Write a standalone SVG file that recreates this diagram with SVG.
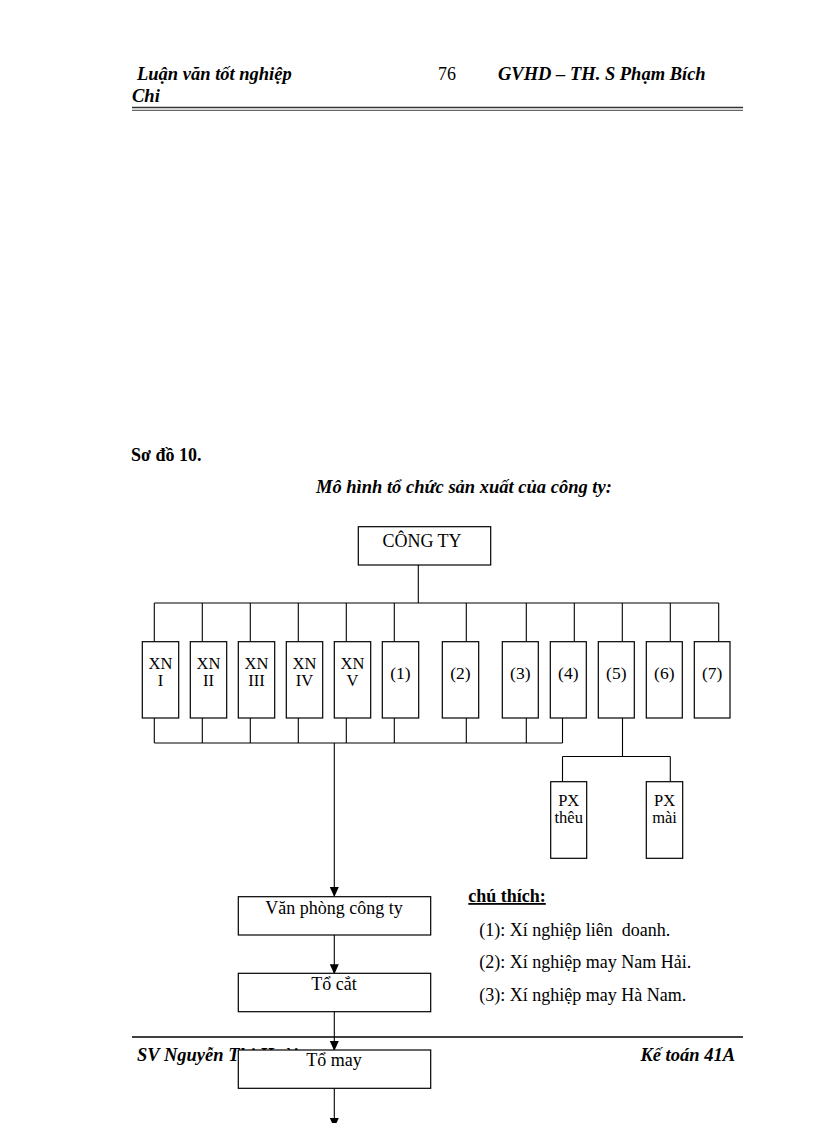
<svg xmlns="http://www.w3.org/2000/svg" width="816" height="1123" viewBox="0 0 816 1123">
<style>
.hd{font-family:"Liberation Serif","Times New Roman",serif;font-weight:bold;font-style:italic;font-size:18.5px;fill:#000}
.rg{font-family:"Liberation Serif","Times New Roman",serif;font-size:18px;fill:#000}
.bx{font-family:"Liberation Serif","Times New Roman",serif;font-size:17.5px;fill:#000;text-anchor:middle}
.xn{font-family:"Liberation Serif","Times New Roman",serif;font-size:16.5px;fill:#000;text-anchor:middle}
.box{fill:#fff;stroke:#000;stroke-width:1.2}
.ln{stroke:#000;stroke-width:1.1;fill:none}
</style>
<defs>
<marker id="arr" markerUnits="userSpaceOnUse" markerWidth="10" markerHeight="12" refX="9" refY="4.5" orient="auto">
<path d="M0,0 L10,4.5 L0,9 z" fill="#000"/>
</marker>
</defs>
<rect width="816" height="1123" fill="#fff"/>
<g id="header">
<text class="hd" x="137" y="80">Luận văn tốt nghiệp</text>
<text class="rg" x="438" y="80">76</text>
<text class="hd" x="498" y="80">GVHD – TH. S Phạm Bích</text>
<text class="hd" x="132" y="102">Chi</text>
<line x1="132" y1="107.5" x2="743" y2="107.5" stroke="#333" stroke-width="1.6"/>
<line x1="132" y1="110.3" x2="743" y2="110.3" stroke="#666" stroke-width="1.2"/>
</g>
<g id="titles">
<text x="131" y="461" style="font-family:'Liberation Serif','Times New Roman',serif;font-weight:bold;font-size:18px">Sơ đồ 10.</text>
<text class="hd" x="316" y="493">Mô hình tổ chức sản xuất của công ty:</text>
</g>
<g id="footer">
<line x1="132" y1="1037" x2="743" y2="1037" stroke="#000" stroke-width="1.6"/>
<text class="hd" x="137" y="1061">SV Nguyễn Thị Hoài</text>
<text class="hd" x="735" y="1061" text-anchor="end">Kế toán 41A</text>
</g>
<g id="connectors">
<line class="ln" x1="418.3" y1="565" x2="418.3" y2="603"/>
<line class="ln" x1="154.3" y1="603" x2="718.7" y2="603"/>
<path class="ln" d="M154.3,603V642 M202.3,603V642 M250.3,603V642 M298.3,603V642 M346.3,603V642 M394.3,603V642 M466.3,603V642 M526.3,603V642 M574.3,603V642 M622.3,603V642 M670.3,603V642 M718.7,603V642"/>
<path class="ln" d="M154.3,718V743 M202.3,718V743 M250.3,718V743 M298.3,718V743 M346.3,718V743 M394.3,718V743 M466.3,718V743 M526.3,718V743 M562.5,718V743"/>
<line class="ln" x1="154.3" y1="743" x2="562.5" y2="743"/>
<line class="ln" x1="622.5" y1="718" x2="622.5" y2="756.5"/>
<line class="ln" x1="562.5" y1="756.5" x2="670.3" y2="756.5"/>
<path class="ln" d="M562.5,756.5V782 M670.3,756.5V782"/>
<line class="ln" x1="334.3" y1="743" x2="334.3" y2="896" marker-end="url(#arr)"/>
<line class="ln" x1="334.3" y1="935" x2="334.3" y2="973.3" marker-end="url(#arr)"/>
<line class="ln" x1="334.3" y1="1011.7" x2="334.3" y2="1050" marker-end="url(#arr)"/>
<line class="ln" x1="334.3" y1="1088.3" x2="334.3" y2="1127" marker-end="url(#arr)"/>
</g>
<g id="cong-ty"><rect class="box" x="358.3" y="526.7" width="132.4" height="38.3"/><text class="rg" x="422" y="546.7" text-anchor="middle">CÔNG TY</text></g>
<g id="xn1"><rect class="box" x="142.3" y="641.7" width="36.4" height="76.3"/><text class="xn" x="160.5" y="669">XN</text><text class="xn" x="160.5" y="686">I</text></g>
<g id="xn2"><rect class="box" x="190.3" y="641.7" width="36.4" height="76.3"/><text class="xn" x="208.5" y="669">XN</text><text class="xn" x="208.5" y="686">II</text></g>
<g id="xn3"><rect class="box" x="238.3" y="641.7" width="36.4" height="76.3"/><text class="xn" x="256.5" y="669">XN</text><text class="xn" x="256.5" y="686">III</text></g>
<g id="xn4"><rect class="box" x="286.3" y="641.7" width="36.4" height="76.3"/><text class="xn" x="304.5" y="669">XN</text><text class="xn" x="304.5" y="686">IV</text></g>
<g id="xn5"><rect class="box" x="334.3" y="641.7" width="36.4" height="76.3"/><text class="xn" x="352.5" y="669">XN</text><text class="xn" x="352.5" y="686">V</text></g>
<g id="n1"><rect class="box" x="382.3" y="641.7" width="36.4" height="76.3"/><text class="bx" x="400.5" y="679">(1)</text></g>
<g id="n2"><rect class="box" x="442.3" y="641.7" width="36.4" height="76.3"/><text class="bx" x="460.5" y="679">(2)</text></g>
<g id="n3"><rect class="box" x="502.3" y="641.7" width="36" height="76.3"/><text class="bx" x="520.3" y="679">(3)</text></g>
<g id="n4"><rect class="box" x="550.3" y="641.7" width="36" height="76.3"/><text class="bx" x="568.3" y="679">(4)</text></g>
<g id="n5"><rect class="box" x="598.3" y="641.7" width="36" height="76.3"/><text class="bx" x="616.3" y="679">(5)</text></g>
<g id="n6"><rect class="box" x="646.3" y="641.7" width="36" height="76.3"/><text class="bx" x="664.3" y="679">(6)</text></g>
<g id="n7"><rect class="box" x="694.3" y="641.7" width="35.7" height="76.3"/><text class="bx" x="712.2" y="679">(7)</text></g>
<g id="px-theu"><rect class="box" x="550.7" y="781.7" width="36" height="76.6"/><text class="xn" x="568.7" y="806">PX</text><text class="xn" x="568.7" y="823">thêu</text></g>
<g id="px-mai"><rect class="box" x="646.3" y="781.7" width="36.4" height="76.6"/><text class="xn" x="664.5" y="806">PX</text><text class="xn" x="664.5" y="823">mài</text></g>
<g id="van-phong"><rect class="box" x="238.3" y="896.7" width="192.4" height="38.3"/><text class="rg" x="334" y="914" text-anchor="middle">Văn phòng công ty</text></g>
<g id="to-cat"><rect class="box" x="238.3" y="973.3" width="192.4" height="38.4"/><text class="rg" x="334" y="990" text-anchor="middle">Tổ cắt</text></g>
<g id="to-may"><rect class="box" x="238.3" y="1050" width="192.4" height="38.3"/><text class="rg" x="334" y="1066" text-anchor="middle">Tổ may</text></g>
<g id="legend">
<text x="468.3" y="902" style="font-family:'Liberation Serif','Times New Roman',serif;font-weight:bold;font-size:18px;text-decoration:underline">chú thích:</text>
<text class="rg" x="479.3" y="936" style="white-space:pre">(1): Xí nghiệp liên  doanh.</text>
<text class="rg" x="479.3" y="968">(2): Xí nghiệp may Nam Hải.</text>
<text class="rg" x="479.3" y="1001">(3): Xí nghiệp may Hà Nam.</text>
</g>
</svg>
